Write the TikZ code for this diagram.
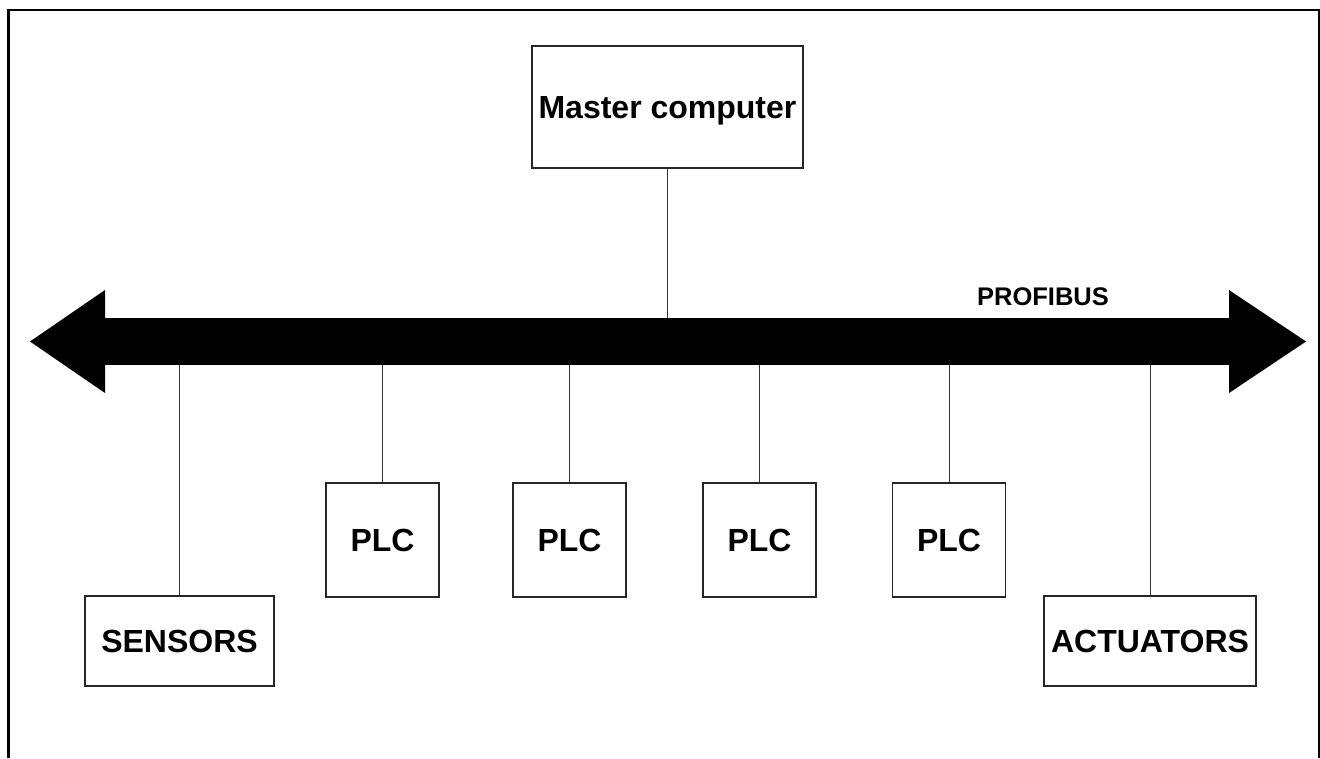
\documentclass[tikz,border=0pt]{standalone}
\usepackage{fontspec}
\setmainfont{Liberation Sans}
\begin{document}
\begin{tikzpicture}[x=1pt,y=-1pt,
  box/.style={draw=black!85, line width=1.2pt, inner sep=0pt, fill=white,
    font=\bfseries\fontsize{32}{38}\selectfont, text height=23pt, text depth=0pt},
  plcbox/.style={box, minimum width=113pt, minimum height=114pt},
  wire/.style={draw=black!80, line width=1pt},
  frame/.style={line width=2.4pt, line cap=butt, line join=miter}]
\useasboundingbox (0,0) rectangle (1320,758);

% open frame around the drawing
\draw[frame] (8.5,758) -- (8.5,10) -- (1319,10) -- (1319,758);

% the field bus: a thick double-headed arrow
\node[fill=black, inner sep=0pt, minimum width=1125pt, minimum height=47pt] (bus) at (667.5,341.5) {};
\fill (105,290) -- (30,341.5) -- (105,393) -- cycle;
\fill (1229,290) -- (1306,341.5) -- (1229,393) -- cycle;
\node[inner sep=0pt, font=\bfseries\fontsize{25.5}{30}\selectfont, text height=18pt, text depth=0pt]
  (buslabel) at (1043,296.5) {PROFIBUS};

% stations
\node[box, minimum width=271pt, minimum height=122pt] (master) at (667.5,107) {Master computer};
\node[box, minimum width=189pt, minimum height=90pt] (sensors) at (179.5,641) {SENSORS};
\node[box, minimum width=212pt, minimum height=90pt] (actuators) at (1150,641) {ACTUATORS};
\node[plcbox] (plc1) at (382.5,540) {PLC};
\node[plcbox] (plc2) at (569.5,540) {PLC};
\node[plcbox] (plc3) at (759.5,540) {PLC};
\node[plcbox] (plc4) at (949,540) {PLC};

% drop lines to the bus
\draw[wire] (master.south) -- (master.south |- bus.north);
\foreach \n in {sensors,plc1,plc2,plc3,plc4,actuators}
  \draw[wire] (\n.north) -- (\n.north |- bus.south);
\end{tikzpicture}
\end{document}
